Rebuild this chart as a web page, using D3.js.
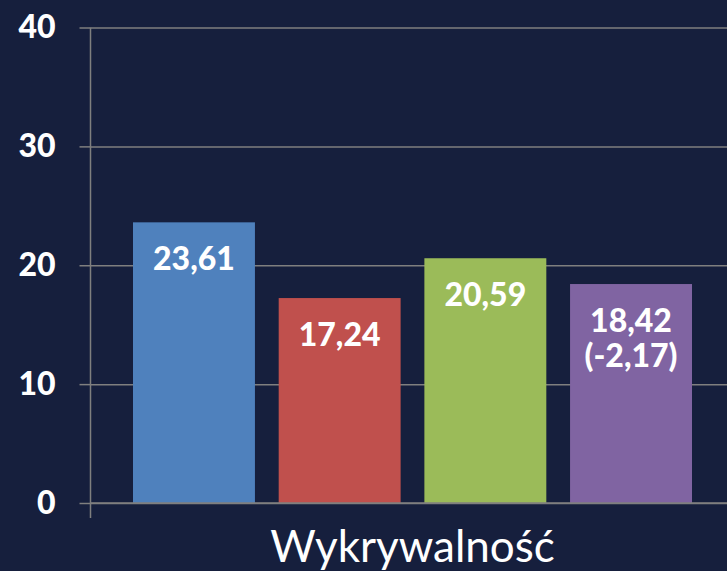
<!DOCTYPE html>
<html>
<head>
<meta charset="utf-8">
<script src="https://cdn.jsdelivr.net/npm/d3@7"></script>
<style>
  body { margin: 0; background: #161f3d; }
  svg { display: block; }
</style>
</head>
<body>
<svg class="plot" width="727" height="571"></svg>
<script>
const category = "Wykrywalność"
const series = ["s1", "s2", "s3", "s4"]
const values = [23.61, 17.24, 20.59, 18.42]
const labels = [["23,61"], ["17,24"], ["20,59"], ["18,42", "(-2,17)"]]
const colors = ["#4f81bd", "#c0504d", "#9bbb59", "#8064a2"]
const yTicks = [0, 10, 20, 30, 40]

const svg = d3.select(".plot")
const width = +svg.attr("width")
const axisX = 90.5

const y = d3.scaleLinear()
  .domain([0, 40])
  .range([503, 27.5])

const x = d3.scaleBand()
  .domain(series)
  .range([133, 692])
  .paddingInner(0.163)
  .paddingOuter(0)

// grid lines
const grid = svg.append("g")
  .attr("transform", `translate(${axisX},0)`)
  .call(d3.axisLeft(y).tickValues(yTicks).tickSize(-(width - axisX)).tickFormat(""))
grid.select(".domain").remove()
grid.selectAll("line")
  .attr("stroke", "#7f7f7f")
  .attr("stroke-width", 1.5)

// y axis
const yAxis = svg.append("g")
  .attr("transform", `translate(${axisX},0)`)
  .call(d3.axisLeft(y).tickValues(yTicks).tickSize(11).tickSizeOuter(0).tickPadding(24))
yAxis.select(".domain")
  .attr("stroke", "#7f7f7f")
  .attr("stroke-width", 1.5)
  .attr("d", `M0,${y(40)}V${y(0) + 15}`)
yAxis.selectAll("line")
  .attr("stroke", "#7f7f7f")
  .attr("stroke-width", 1.5)
yAxis.selectAll("text")
  .attr("fill", "#fff")
  .style("font-family", "Lato, sans-serif")
  .style("font-weight", "900")
  .style("font-size", "32px")

// bars
svg.selectAll(".bar")
  .data(series)
  .enter().append("rect")
  .attr("class", "bar")
  .attr("x", d => x(d))
  .attr("y", (d, i) => y(values[i]))
  .attr("width", x.bandwidth())
  .attr("height", (d, i) => y(0) - y(values[i]))
  .attr("fill", (d, i) => colors[i])

// baseline over the bars
svg.append("line")
  .attr("x1", axisX)
  .attr("x2", width)
  .attr("y1", y(0))
  .attr("y2", y(0))
  .attr("stroke", "#7f7f7f")
  .attr("stroke-width", 1.5)

// value labels
const lbl = svg.selectAll(".lbl")
  .data(series)
  .enter().append("text")
  .attr("class", "lbl")
  .attr("x", d => x(d) + x.bandwidth() / 2)
  .attr("y", (d, i) => y(values[i]) + 48)
  .attr("text-anchor", "middle")
  .attr("fill", "#fff")
  .style("font-family", "Lato, sans-serif")
  .style("font-weight", "900")
  .style("font-size", "32px")

lbl.selectAll("tspan")
  .data((d, i) => labels[i].map(t => ({ t, x: x(d) + x.bandwidth() / 2 })))
  .enter().append("tspan")
  .attr("x", d => d.x)
  .attr("dy", (d, j) => j === 0 ? 0 : 35)
  .text(d => d.t)

// category label
svg.append("text")
  .attr("x", (x(series[0]) + x(series[3]) + x.bandwidth()) / 2)
  .attr("y", 562)
  .attr("text-anchor", "middle")
  .attr("fill", "#fff")
  .style("font-family", "Lato, sans-serif")
  .style("font-size", "44px")
  .text(category)
</script>
</body>
</html>
